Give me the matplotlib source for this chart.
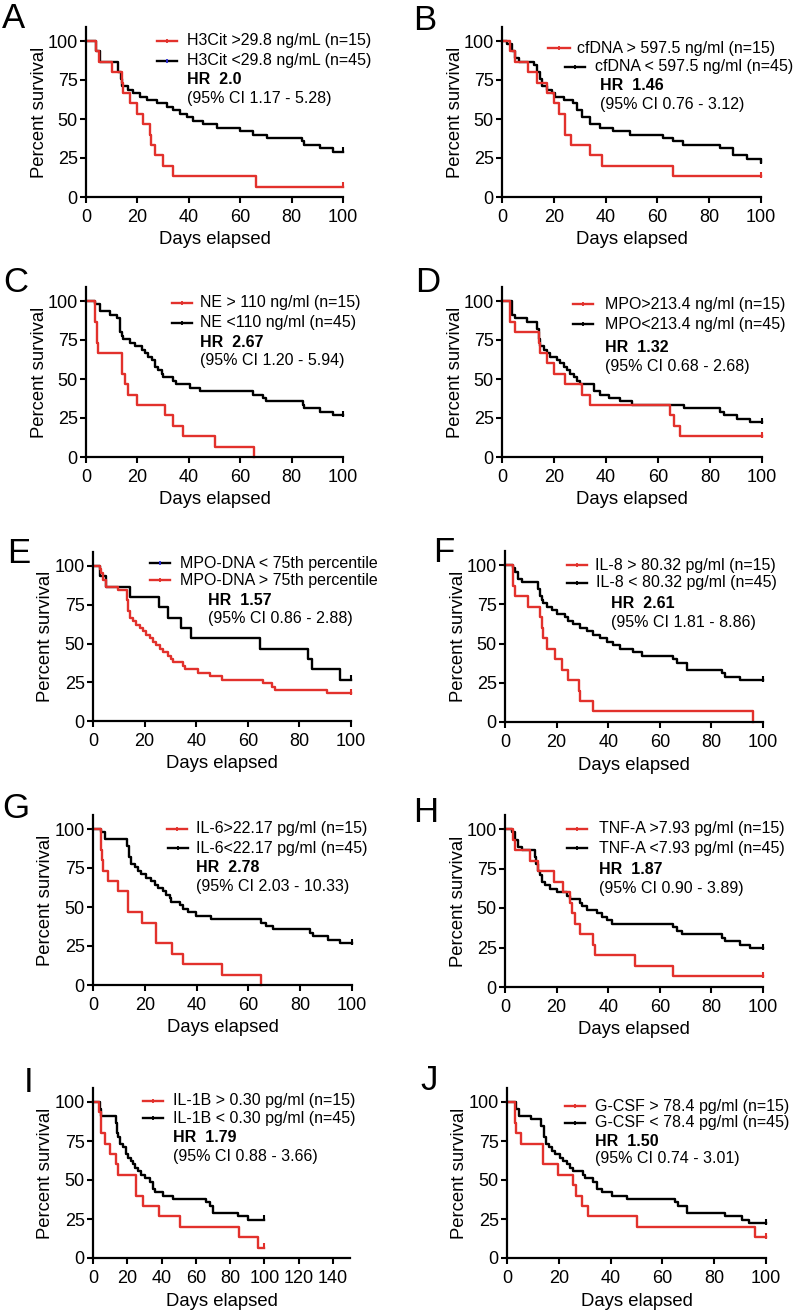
import matplotlib
matplotlib.use("Agg")
import matplotlib.pyplot as plt
from matplotlib.lines import Line2D

plt.rcParams['font.family'] = ['Liberation Sans', 'DejaVu Sans']

RED = '#e2312c'
BLACK = '#000000'
BLUE = '#2a2ad6'

# ---- A: H3Cit
a_labels = ["H3Cit >29.8 ng/mL (n=15)", "H3Cit <29.8 ng/mL (n=45)"]
a_hr, a_ci = "HR  2.0", "(95% CI 1.17 - 5.28)"
a_red_t = [0, 4, 5, 10, 14, 14.3, 17, 20, 22, 25, 25.3, 27, 30, 34, 66, 100]
a_red_s = [100, 93.3, 86.7, 80, 73.3, 66.7, 60, 53.3, 46.7, 40, 33.3, 26.7, 20, 13.3, 6.7, 6.7]
a_blk_t = [0, 4, 5.5, 12.6, 13.5, 14, 16.5, 18.4, 21, 23.6, 27.5, 31.4, 34, 36.6, 39.2, 41.8,
           45.7, 50.8, 60, 65, 70.3, 84, 85, 91, 96, 100]
a_blk_s = [100, 93.3, 86.7, 80, 75.6, 71.1, 68.9, 66.7, 64.4, 62.2, 60, 57.8, 55.6, 53.3, 51.1, 48.9,
           46.7, 44.4, 42.2, 40, 37.8, 35.6, 33.3, 31.1, 28.9, 28.9]

# ---- B: cfDNA
b_labels = ["cfDNA > 597.5 ng/ml (n=15)", "cfDNA < 597.5 ng/ml (n=45)"]
b_hr, b_ci = "HR  1.46", "(95% CI 0.76 - 3.12)"
b_red_t = [0, 3, 5, 10, 13.5, 17.5, 20, 22, 24.5, 26.5, 34, 38.5, 66, 100]
b_red_s = [100, 93.3, 86.7, 80, 73.3, 66.7, 60, 53.3, 40, 33.3, 26.7, 20, 13.3, 13.3]
b_blk_t = [0, 2, 4, 5, 6.4, 12.2, 13.5, 14.8, 15.4, 17.4, 19.3, 20.6, 23.8, 27.6, 28.9, 30.8,
           34, 37.9, 43, 49.5, 62.3, 66.2, 70, 84.2, 89.3, 94.5, 100]
b_blk_s = [100, 97.8, 93.3, 88.9, 86.7, 84.4, 80, 75.6, 71.1, 68.9, 66.7, 64.4, 62.2, 60, 55.6, 51.1,
           46.7, 44.4, 42.2, 40, 37.8, 35.6, 33.3, 31.1, 26.7, 24.4, 22.2]

# ---- C: NE
c_labels = ["NE > 110 ng/ml (n=15)", "NE <110 ng/ml (n=45)"]
c_hr, c_ci = "HR  2.67", "(95% CI 1.20 - 5.94)"
c_red_t = [0, 3.5, 4.1, 4.8, 13.9, 15.2, 16.5, 19.7, 30.7, 33.9, 37.8, 50.1, 65.3]
c_red_s = [100, 86.7, 73.3, 66.7, 53.3, 46.7, 40, 33.3, 26.7, 20, 13.3, 6.7, 0]
c_blk_t = [0, 3.5, 5.4, 9.3, 11.9, 13.2, 13.9, 14.5, 17.1, 19, 21.6, 22.9, 24.2, 25.5, 26.8,
           28.1, 29.4, 30, 33.9, 35.2, 40.4, 44.3, 65, 68.9, 70.2, 84.5, 85, 91, 96.1, 100]
c_blk_s = [100, 97.8, 93.3, 91.1, 88.9, 80, 77.8, 75.6, 73.3, 71.1, 68.9, 66.7, 64.4, 62.2, 57.8,
           55.6, 53.3, 51.1, 48.9, 46.7, 44.4, 42.2, 40, 37.8, 35.6, 33.3, 31.1, 28.9, 26.7, 26.7]

# ---- D: MPO
d_labels = ["MPO>213.4 ng/ml (n=15)", "MPO<213.4 ng/ml (n=45)"]
d_hr, d_ci = "HR  1.32", "(95% CI 0.68 - 2.68)"
d_red_t = [0, 3.2, 5.1, 14.1, 14.5, 17.3, 19.9, 24.4, 30.8, 34, 64.7, 66, 68.6, 100]
d_red_s = [100, 86.7, 80, 73.3, 66.7, 60, 53.3, 46.7, 40, 33.3, 26.7, 20, 13.3, 13.3]
d_blk_t = [0, 3.8, 5.1, 9.6, 13.5, 14.1, 14.7, 16, 17.3, 18.6, 21.2, 22.4, 23.7, 25, 26.3,
           27.6, 28.8, 30.1, 35.3, 37.8, 41, 45.5, 50, 69.9, 84, 85.3, 90.4, 95.5, 100]
d_blk_s = [100, 91.1, 88.9, 86.7, 82.2, 75.6, 71.1, 68.9, 66.7, 64.4, 62.2, 60, 57.8, 55.6, 53.3,
           51.1, 48.9, 46.7, 42.2, 40, 37.8, 35.6, 33.3, 31.1, 28.9, 26.7, 24.4, 22.2, 22.2]

# ---- E: MPO-DNA (black = below 75th percentile, red = above)
e_labels = ["MPO-DNA < 75th percentile", "MPO-DNA > 75th percentile"]
e_hr, e_ci = "HR  1.57", "(95% CI 0.86 - 2.88)"
e_red_t = [0, 2.6, 3.2, 3.9, 4.9, 9.7, 13, 13.6, 14.2, 15.5, 16.8, 18.1, 19.4, 20.7, 22, 23.3,
           24.6, 25.9, 27.2, 29.1, 30.4, 31.1, 35, 35.6, 40.8, 45.3, 49.9, 66, 69.3, 70.6, 90.7, 100]
e_red_s = [100, 97.8, 95.6, 91.1, 86.7, 84.4, 77.8, 71.1, 66.7, 64.4, 62.2, 60, 57.8, 55.6, 53.3, 51.1,
           48.9, 46.7, 44.4, 42.2, 40, 37.8, 35.6, 33.3, 31.1, 28.9, 26.7, 24.4, 22.2, 20, 17.8, 17.8]
e_blk_t = [0, 2.6, 4.9, 14.2, 25.5, 29, 34, 38, 64.8, 83.5, 84.8, 95.9, 100]
e_blk_s = [100, 93.3, 86.7, 80, 73.3, 66.7, 60, 53.3, 46.7, 40, 33.3, 26.7, 26.7]

# ---- F: IL-8
f_labels = ["IL-8 > 80.32 pg/ml (n=15)", "IL-8 < 80.32 pg/ml (n=45)"]
f_hr, f_ci = "HR  2.61", "(95% CI 1.81 - 8.86)"
f_red_t = [0, 3.2, 3.9, 9.1, 13.6, 14.2, 14.9, 16.2, 19.4, 22, 24.6, 28.5, 29.1, 34, 96]
f_red_s = [100, 86.7, 80, 73.3, 66.7, 60, 53.3, 46.7, 40, 33.3, 26.7, 20, 13.3, 6.7, 0]
f_blk_t = [0, 3.2, 3.9, 5.2, 6.5, 12.9, 13.6, 14.2, 14.9, 16.2, 18.1, 20.1, 23.3, 24.6, 26.5, 29.1,
           31.7, 34.3, 36.9, 39.5, 42, 44.6, 49.8, 53, 65.3, 66.6, 70.5, 84.1, 85.4, 91.2, 100]
f_blk_s = [100, 97.8, 95.6, 91.1, 88.9, 84.4, 80, 77.8, 75.6, 73.3, 71.1, 68.9, 66.7, 64.4, 62.2, 60,
           57.8, 55.6, 53.3, 51.1, 48.9, 46.7, 44.4, 42.2, 40, 37.8, 33.3, 31.1, 28.9, 26.7, 26.7]

# ---- G: IL-6
g_labels = ["IL-6>22.17 pg/ml (n=15)", "IL-6<22.17 pg/ml (n=45)"]
g_hr, g_ci = "HR  2.78", "(95% CI 2.03 - 10.33)"
g_red_t = [0, 3, 3.5, 3.9, 5.8, 9.7, 13.5, 18.9, 24.5, 30.6, 34.7, 49.9, 65]
g_red_s = [100, 86.7, 80, 73.3, 66.7, 60, 46.7, 40, 26.7, 20, 13.3, 6.7, 0]
g_blk_t = [0, 3.2, 4.5, 13.3, 13.9, 14.8, 16.1, 17.4, 18.7, 20.6, 22.5, 23.8, 25.1, 27, 28.3,
           29.6, 30.2, 33.5, 34.7, 36.7, 39.9, 45.7, 65, 66.9, 69.5, 83.7, 84.9, 90.7, 95.2, 100]
g_blk_s = [100, 97.8, 93.3, 88.9, 82.2, 77.8, 75.6, 73.3, 71.1, 68.9, 66.7, 64.4, 62.2, 60, 57.8,
           55.6, 53.3, 51.1, 48.9, 46.7, 44.4, 42.2, 40, 37.8, 35.6, 33.3, 31.1, 28.9, 26.7, 26.7]

# ---- H: TNF-A
h_labels = ["TNF-A >7.93 pg/ml (n=15)", "TNF-A <7.93 pg/ml (n=45)"]
h_hr, h_ci = "HR  1.87", "(95% CI 0.90 - 3.89)"
h_red_t = [0, 3.2, 3.9, 9.7, 12.7, 19.1, 22.6, 25.2, 25.9, 27.2, 29.1, 34, 35, 50.5, 65.1, 100]
h_red_s = [100, 93.3, 86.7, 80, 73.3, 66.7, 60, 53.3, 46.7, 40, 33.3, 26.7, 20, 13.3, 6.7, 6.7]
h_blk_t = [0, 2.6, 3.9, 5.2, 6.5, 11.6, 12.2, 12.9, 13.6, 14.2, 15.5, 17.5, 20.1, 23.9, 25.2,
           29.1, 29.8, 31.7, 35.6, 37.5, 39.5, 41.4, 65.3, 66.6, 68.6, 84.1, 85.4, 91.2, 95.1, 100]
h_blk_s = [100, 97.8, 93.3, 88.9, 86.7, 82.2, 77.8, 73.3, 71.1, 66.7, 64.4, 62.2, 60, 57.8, 55.6,
           53.3, 51.1, 48.9, 46.7, 44.4, 42.2, 40, 37.8, 35.6, 33.3, 31.1, 28.9, 26.7, 24.4, 24.4]

# ---- I: IL-1B
i_labels = ["IL-1B > 0.30 pg/ml (n=15)", "IL-1B < 0.30 pg/ml (n=45)"]
i_hr, i_ci = "HR  1.79", "(95% CI 0.88 - 3.66)"
i_red_t = [0, 3.5, 4.5, 6.8, 9.7, 13.6, 14.6, 25.2, 29.1, 38.8, 50.5, 85.4, 96.1, 100]
i_red_s = [100, 93.3, 80, 73.3, 66.7, 60, 53.3, 40, 33.3, 26.7, 20, 13.3, 6.7, 6.7]
i_blk_t = [0, 3.9, 4.9, 13.2, 14, 14.8, 15.9, 17.5, 19, 20.4, 22.3, 23.3, 24.3, 26.2, 28.2, 30.1,
           33, 35, 35.9, 40.8, 46.6, 66, 68, 69.9, 84.5, 90.3, 100]
i_blk_s = [100, 95.6, 91.1, 86.7, 80, 77.8, 73.3, 71.1, 66.7, 64.4, 62.2, 60, 57.8, 55.6, 53.3, 51.1,
           48.9, 44.4, 42.2, 40, 37.8, 35.6, 33.3, 28.9, 26.7, 24.4, 24.4]

# ---- J: G-CSF
j_labels = ["G-CSF > 78.4 pg/ml (n=15)", "G-CSF < 78.4 pg/ml (n=45)"]
j_hr, j_ci = "HR  1.50", "(95% CI 0.74 - 3.01)"
j_red_t = [0, 3, 3.6, 5.5, 13.9, 19.7, 25.5, 26.8, 28.8, 31.1, 50.1, 95.9, 100]
j_red_s = [100, 86.7, 80, 73.3, 60, 53.3, 46.7, 40, 33.3, 26.7, 20, 13.3, 13.3]
j_blk_t = [0, 3.6, 4.6, 9.4, 13.3, 14.2, 15, 16.3, 17.2, 18.5, 20.4, 21.7, 23, 24.3, 25.5, 29.4,
           30.1, 33.3, 34.6, 36.5, 40.4, 46.2, 64.9, 66.2, 69.4, 84.3, 90.7, 93.3, 100]
j_blk_s = [100, 95.6, 91.1, 88.9, 84.4, 77.8, 73.3, 71.1, 68.9, 66.7, 64.4, 62.2, 60, 57.8, 55.6, 53.3,
           51.1, 48.9, 44.4, 42.2, 40, 37.8, 35.6, 33.3, 28.9, 26.7, 24.4, 22.2, 22.2]

yticks = [0, 25, 50, 75, 100]
xticks_100 = [0, 20, 40, 60, 80, 100]
xticks_150 = [0, 20, 40, 60, 80, 100, 120, 140]

W, H = 794, 1311
fig = plt.figure(figsize=(W / 100, H / 100), dpi=100)


def fx(px):
    return px / W


def fy(py):
    return 1 - py / H


def panel(letter, letter_xy, box, xmax, xticks, red, blk, labels, leg_cols, rows, hr, ci, hr_xy, ci_xy):
    x0, x1, yb, y100 = box
    ymax = 109
    hpx = (yb - y100) * ymax / 100
    wpx = x1 - x0
    ax = fig.add_axes([fx(x0), fy(yb), wpx / W, hpx / H])
    for (t, s), col in ((blk, BLACK), (red, RED)):
        ax.step(t, s, where='post', color=col, lw=1.7, clip_on=False)
        if s[-1] > 0:
            ax.plot([t[-1]], [s[-1] + 1], marker='|', color=col, ms=5, mew=1.5, clip_on=False)
    ax.set_xlim(0, xmax)
    ax.set_ylim(0, ymax)
    ax.set_xticks(xticks)
    ax.set_yticks(yticks)
    for sp in ('top', 'right'):
        ax.spines[sp].set_visible(False)
    for sp in ('left', 'bottom'):
        ax.spines[sp].set_linewidth(1.6)
    ax.tick_params(direction='out', length=4.5, width=1.5, labelsize=13, pad=1.5)
    ax.tick_params(axis='x', pad=4)
    ax.set_xlabel('Days elapsed', fontsize=13.3)
    ax.set_ylabel('Percent survival', fontsize=13.3)
    ax.xaxis.set_label_coords(0.5, -43 / hpx)
    ax.xaxis.label.set_va('center')
    ax.yaxis.set_label_coords(-47 / wpx, 0.5)
    ax.yaxis.label.set_va('center')

    fig.text(fx(letter_xy[0]), fy(letter_xy[1]), letter, fontsize=25, va='baseline', ha='left')
    for lab, (lc, mc), (h0, h1, tx, ty) in zip(labels, leg_cols, rows):
        fig.add_artist(Line2D([fx(h0), fx(h1)], [fy(ty), fy(ty)], color=lc, lw=1.7))
        fig.add_artist(Line2D([fx((h0 + h1) / 2)], [fy(ty)], marker='|', color=mc, ms=3.5, mew=1.3))
        fig.text(fx(tx), fy(ty), lab, fontsize=11.5, va='center', ha='left')
    fig.text(fx(hr_xy[0]), fy(hr_xy[1]), hr, fontsize=11.5, fontweight='bold', va='center', ha='left')
    fig.text(fx(ci_xy[0]), fy(ci_xy[1]), ci, fontsize=11.5, va='center', ha='left')


std = [(RED, RED), (BLACK, BLACK)]

panel('A', (2, 28), (86, 343, 197, 41), 100, xticks_100, (a_red_t, a_red_s), (a_blk_t, a_blk_s),
      a_labels, [(RED, RED), (BLACK, BLUE)], [(157, 177, 187, 41), (157, 177, 187, 61)],
      a_hr, a_ci, (187, 80), (187, 98))
panel('B', (413, 30), (502, 761, 197, 41), 100, xticks_100, (b_red_t, b_red_s), (b_blk_t, b_blk_s),
      b_labels, std, [(548, 570, 577, 48), (565, 585, 595, 67)],
      b_hr, b_ci, (600, 86), (600, 105))
panel('C', (3, 292), (86, 343, 457, 301), 100, xticks_100, (c_red_t, c_red_s), (c_blk_t, c_blk_s),
      c_labels, std, [(172, 192, 200, 303), (172, 192, 200, 323)],
      c_hr, c_ci, (200, 342), (200, 360))
panel('D', (415, 292), (502, 762, 457, 301), 100, xticks_100, (d_red_t, d_red_s), (d_blk_t, d_blk_s),
      d_labels, std, [(573, 593, 605, 304), (573, 593, 605, 324)],
      d_hr, d_ci, (605, 348), (605, 367))
panel('E', (7, 563), (93, 351, 721, 566), 100, xticks_100, (e_red_t, e_red_s), (e_blk_t, e_blk_s),
      e_labels, [(BLACK, BLUE), (RED, RED)], [(150, 170, 180, 563), (150, 170, 180, 580)],
      e_hr, e_ci, (208, 600), (208, 618))
panel('F', (433, 562), (505, 763, 722, 565), 100, xticks_100, (f_red_t, f_red_s), (f_blk_t, f_blk_s),
      f_labels, std, [(567, 587, 595, 565), (567, 587, 596, 583)],
      f_hr, f_ci, (611, 603), (611, 622))
panel('G', (2, 818), (93, 352, 985, 829), 100, xticks_100, (g_red_t, g_red_s), (g_blk_t, g_blk_s),
      g_labels, std, [(167, 187, 196, 829), (168, 188, 196, 848)],
      g_hr, g_ci, (196, 868), (196, 887))
panel('H', (413, 822), (505, 763, 987, 829), 100, xticks_100, (h_red_t, h_red_s), (h_blk_t, h_blk_s),
      h_labels, std, [(567, 587, 599, 829), (567, 587, 599, 848)],
      h_hr, h_ci, (599, 869), (599, 888))
panel('I', (24, 1092), (93, 350, 1258, 1102), 150, xticks_150, (i_red_t, i_red_s), (i_blk_t, i_blk_s),
      i_labels, std, [(143, 163, 173, 1101), (143, 163, 173, 1118)],
      i_hr, i_ci, (173, 1138), (173, 1157))
panel('J', (420, 1090), (507, 766, 1258, 1102), 100, xticks_100, (j_red_t, j_red_s), (j_blk_t, j_blk_s),
      j_labels, std, [(565, 585, 595, 1106), (565, 585, 595, 1123)],
      j_hr, j_ci, (595, 1142), (595, 1158))

fig.savefig('out.png', dpi=100)
